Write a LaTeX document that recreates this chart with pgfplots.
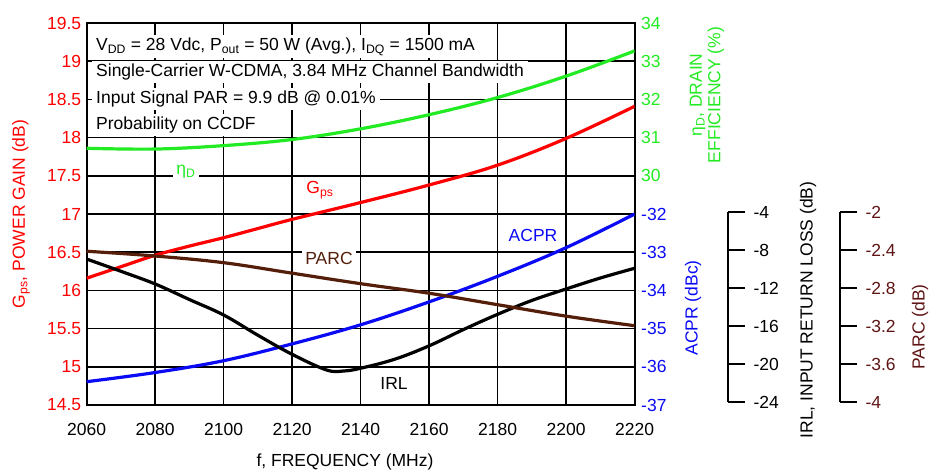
\documentclass[border=0pt]{standalone}
\usepackage{pgfplots}
\pgfplotsset{compat=1.18}
\usetikzlibrary{calc}
\usepackage{fontspec}
\setmainfont{Liberation Sans}
\definecolor{cred}{RGB}{255,0,0}
\definecolor{cgreen}{RGB}{35,235,35}
\definecolor{cblue}{RGB}{10,10,245}
\definecolor{cbrown}{RGB}{85,30,10}
\definecolor{cparc}{RGB}{95,20,20}

\pgfplotstableread{
f g
2060 16.16
2070 16.31
2080 16.46
2090 16.58
2100 16.69
2110 16.81
2120 16.93
2140 17.15
2160 17.38
2180 17.64
2200 17.99
2220 18.41
}\gpsdata

\pgfplotstableread{
f eff
2060 30.72
2080 30.70
2100 30.79
2120 30.95
2140 31.23
2160 31.60
2180 32.05
2200 32.61
2220 33.27
}\effdata

\pgfplotstableread{
f acpr
2060 -36.39
2080 -36.15
2100 -35.84
2120 -35.40
2140 -34.90
2160 -34.30
2180 -33.63
2200 -32.88
2220 -32.00
}\acprdata

\pgfplotstableread{
f irl
2060 -8.72
2070 -10.00
2080 -11.33
2090 -12.96
2100 -14.58
2110 -16.70
2120 -18.70
2130 -20.33
2135 -20.44
2140 -20.15
2150 -19.20
2160 -17.80
2170 -16.10
2180 -14.50
2190 -13.05
2200 -11.85
2210 -10.70
2220 -9.68
}\irldata

\pgfplotstableread{
f parc
2060 -2.39
2080 -2.44
2100 -2.51
2120 -2.62
2140 -2.73
2160 -2.83
2180 -2.95
2200 -3.07
2220 -3.17
}\parcdata

\begin{document}
\begin{tikzpicture}[font=\fontsize{17.5}{20}\selectfont]
\pgfplotsset{
  base/.style={scale only axis, width=548pt, height=382pt,
    xmin=2060, xmax=2220,
    /pgf/number format/assume math mode=true,
    ticklabel style={font=\fontsize{17.5}{20}\selectfont},
    major tick length=0pt},
  curve/.style={line width=3.2pt, smooth, tension=0.6},
}
% main axis: Gps
\begin{axis}[base, name=main, at={(0,0)}, anchor=south west,
  ymin=14.5, ymax=19.5,
  ytick={14.5,15,15.5,16,16.5,17,17.5,18,18.5,19,19.5},
  yticklabels={14.5,15,15.5,16,16.5,17,17.5,18,18.5,19,19.5},
  xtick={2060,2080,2100,2120,2140,2160,2180,2200,2220},
  xticklabels={2060,2080,2100,2120,2140,2160,2180,2200,2220},
  grid=major, grid style={black, line width=1.5pt},
  axis line style={line width=2.3pt},
  yticklabel style={text=cred, xshift=-2pt},
  xticklabel style={yshift=-15pt},
]
\addplot[curve, cred] table[x=f, y=g] {\gpsdata};
\end{axis}
% efficiency
\begin{axis}[base, at={(main.south west)}, anchor=south west,
  ymin=24, ymax=34, ytick={30,31,32,33,34},
  axis y line*=right, axis x line=none, y axis line style={draw=none},
  yticklabel style={text=cgreen, xshift=3pt},
]
\addplot[curve, cgreen] table[x=f, y=eff] {\effdata};
\end{axis}
% ACPR
\begin{axis}[base, at={(main.south west)}, anchor=south west,
  ymin=-37, ymax=-27, ytick={-37,-36,-35,-34,-33,-32},
  axis y line*=right, axis x line=none, y axis line style={draw=none},
  yticklabel style={text=cblue, xshift=3pt},
]
\addplot[curve, cblue] table[x=f, y=acpr] {\acprdata};
\end{axis}
% IRL (plotted on main frame)
\begin{axis}[base, at={(main.south west)}, anchor=south west,
  ymin=-24, ymax=16, axis lines=none,
]
\addplot[curve, black] table[x=f, y=irl] {\irldata};
\end{axis}
% PARC (plotted on main frame)
\begin{axis}[base, at={(main.south west)}, anchor=south west,
  ymin=-4, ymax=0, axis lines=none,
]
\addplot[curve, cbrown] table[x=f, y=parc] {\parcdata};
\end{axis}
% IRL bracket axis
\begin{axis}[scale only axis, width=10pt, height=190pt,
  at={($(main.south east)+(93.3pt,3pt)$)}, anchor=south east,
  xmin=0, xmax=1, ymin=-24, ymax=-4, ytick={-24,-20,-16,-12,-8,-4},
  axis y line=right, axis x line=none,
  y axis line style={line width=2.3pt, -},
  tick align=outside, major tick length=17pt,
  every tick/.style={line width=2.3pt, black},
  /pgf/number format/assume math mode=true,
  yticklabel style={font=\fontsize{17.5}{20}\selectfont, xshift=5pt},
]
\end{axis}
% PARC bracket axis
\begin{axis}[scale only axis, width=10pt, height=190pt,
  at={($(main.south east)+(205.3pt,3pt)$)}, anchor=south east,
  xmin=0, xmax=1, ymin=-4, ymax=-2, ytick={-4,-3.6,-3.2,-2.8,-2.4,-2},
  yticklabels={-4,-3.6,-3.2,-2.8,-2.4,-2},
  axis y line=right, axis x line=none,
  y axis line style={line width=2.3pt, -},
  tick align=outside, major tick length=17pt,
  every tick/.style={line width=2.3pt, black},
  /pgf/number format/assume math mode=true,
  yticklabel style={font=\fontsize{17.5}{20}\selectfont, xshift=5pt, text=cparc},
]
\end{axis}
\coordinate (O) at ($(main.north west)+(-86.7pt,23pt)$);
\begin{scope}[shift={(O)}, x=1pt, y=-1pt]
  % annotation box
  \begin{scope}[every node/.style={anchor=base west, fill=white, inner xsep=4pt, inner ysep=3pt}]
    \node at (92,50.5) {V\textsubscript{DD} = 28 Vdc, P\textsubscript{out} = 50 W (Avg.), I\textsubscript{DQ} = 1500 mA};
    \node at (92,76.5) {Single-Carrier W-CDMA, 3.84 MHz Channel Bandwidth};
    \node at (92,103.5) {Input Signal PAR = 9.9 dB @ 0.01\%};
    \node at (92,129.5) {Probability on CCDF};
  \end{scope}
  \node[fill=white, inner sep=3pt, text=cgreen] at (186,172) {η\textsubscript{D}};
  \node[text=cred] at (320,190) {G\textsubscript{ps}};
  \node[fill=white, inner sep=3pt, text=cbrown] at (329,258) {PARC};
  \node[text=cblue] at (533,235) {ACPR};
  \node[text=black] at (394,383) {IRL};
  % axis titles
  \node[rotate=90, text=cred] at (21,214) {G\textsubscript{ps}, POWER GAIN (dB)};
  \node[rotate=90, text=cgreen, align=center, font=\fontsize{17.5}{18.5}\selectfont] at (707,95) {η\textsubscript{D}, DRAIN\\EFFICIENCY (\%)};
  \node[rotate=90, text=cblue] at (693,308) {ACPR (dBc)};
  \node[rotate=90, text=black] at (808,310) {IRL, INPUT RETURN LOSS (dB)};
  \node[rotate=90, text=cparc] at (920,327) {PARC (dB)};
  \node at (345,462) {f, FREQUENCY (MHz)};
\end{scope}
\pgfresetboundingbox
\path (O) rectangle ($(O)+(932pt,-473pt)$);
\end{tikzpicture}
\end{document}
